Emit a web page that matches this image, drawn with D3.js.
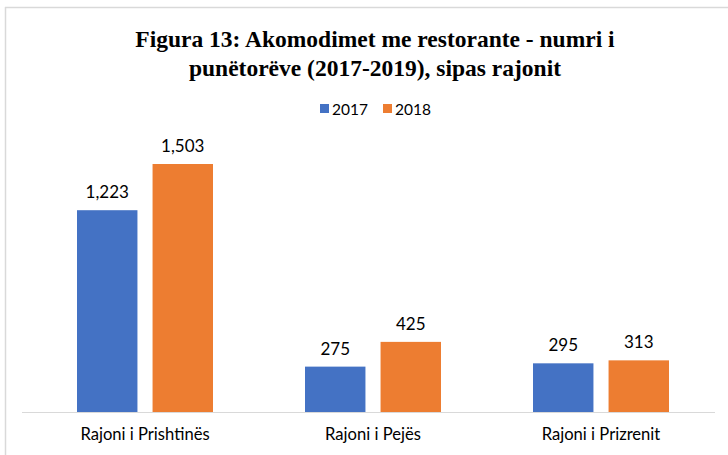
<!DOCTYPE html>
<html><head><meta charset="utf-8">
<script src="https://cdn.jsdelivr.net/npm/d3@7"></script>
<style>body{margin:0;background:#fff}</style>
</head><body><svg id="c" width="728" height="455"></svg>
<script>
const categories = ["Rajoni i Prishtinës", "Rajoni i Pejës", "Rajoni i Prizrenit"];
const seriesNames = ["2017", "2018"];
const values2017 = [1223, 275, 295];
const values2018 = [1503, 425, 313];
const colors = ["#4472C4", "#ED7D31"];
const titleLines = ["Figura 13: Akomodimet me restorante - numri i", "punëtorëve (2017-2019), sipas rajonit"];

const svg = d3.select("#c");
const fmt = d3.format(",");
const sans = "Lato, 'Open Sans', sans-serif";
// frame lines (cropped chart border)
svg.append("line").attr("x1",5).attr("x2",728).attr("y1",7.5).attr("y2",7.5).attr("stroke","#d9d9d9").attr("stroke-width",1.5);
svg.append("line").attr("x1",5.5).attr("x2",5.5).attr("y1",7).attr("y2",455).attr("stroke","#d9d9d9").attr("stroke-width",1.5);

const x0 = d3.scaleBand().domain(categories).range([31, 715]).paddingInner(0).paddingOuter(0);
const x1 = d3.scaleBand().domain(seriesNames).range([46, 182]).paddingInner(0.2);
const y = d3.scaleLinear().domain([0, 1600]).range([412, 148]);

const data = categories.map((c,i)=>({cat:c, vals:[values2017[i], values2018[i]]}));

const g = svg.append("g");
const groups = g.selectAll("g.grp").data(data).join("g").attr("transform", d=>`translate(${x0(d.cat)},0)`);
groups.selectAll("rect").data(d=>d.vals.map((v,j)=>({v, s:seriesNames[j], j})))
  .join("rect")
  .attr("x", d=>x1(d.s)).attr("width", x1.bandwidth())
  .attr("y", d=>y(d.v)).attr("height", d=>y(0)-y(d.v))
  .attr("fill", d=>colors[d.j]);
groups.selectAll("text").data(d=>d.vals.map((v,j)=>({v, s:seriesNames[j], j})))
  .join("text")
  .attr("x", d=>x1(d.s)+x1.bandwidth()/2).attr("y", d=>y(d.v)-12)
  .attr("text-anchor","middle").attr("font-family",sans).attr("font-size",17).attr("fill","#000")
  .text(d=>fmt(d.v));

// baseline
svg.append("line").attr("x1",22).attr("x2",715).attr("y1",y(0)+0.5).attr("y2",y(0)+0.5).attr("stroke","#d9d9d9").attr("stroke-width",1);

// category axis labels
const xAxis = d3.axisBottom(x0).tickSize(0).tickPadding(16);
const ax = svg.append("g").attr("transform",`translate(0,${y(0)})`).call(xAxis);
ax.select(".domain").remove();
ax.selectAll("text").attr("font-family",sans).attr("font-size",16.6).attr("fill","#000");

// title
svg.append("g").selectAll("text").data(titleLines).join("text")
  .attr("x", 375).attr("y",(d,i)=>47+i*29).attr("text-anchor","middle")
  .attr("font-family","'Liberation Serif', serif").attr("font-weight","bold").attr("font-size",23.5).attr("fill","#000")
  .text(d=>d);

// legend
const leg = svg.append("g");
const legX = [320, 383];
seriesNames.forEach((s,i)=>{
  leg.append("rect").attr("x",legX[i]).attr("y",104).attr("width",9).attr("height",9).attr("fill",colors[i]);
  leg.append("text").attr("x",legX[i]+12).attr("y",115).attr("font-family",sans).attr("font-size",15.5).attr("fill","#000").text(s);
});
</script></body></html>
